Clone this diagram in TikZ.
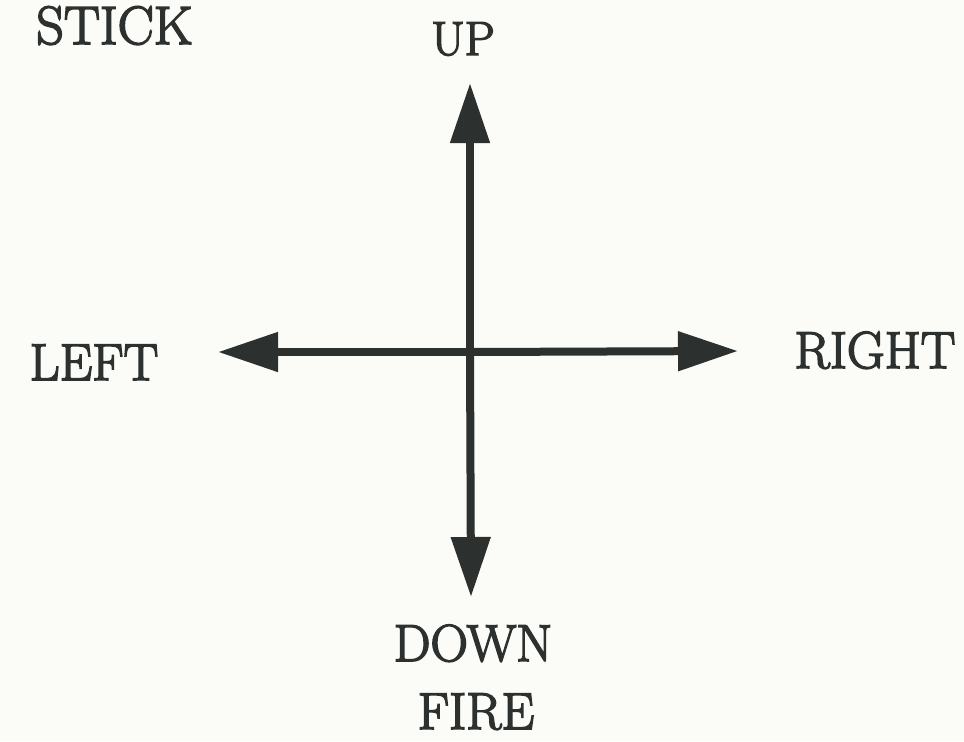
\documentclass[tikz,border=0pt]{standalone}
\usepackage{fontspec}
\usetikzlibrary{arrows.meta,positioning,backgrounds}
\newfontfamily\joyfont{Latin Modern Roman}[FakeBold=3]
\definecolor{paper}{RGB}{251,251,248}
\definecolor{ink}{RGB}{44,48,46}

\begin{document}
\begin{tikzpicture}[x=0.5pt,y=-0.5pt,
    lbl/.style={font=\joyfont\fontsize{26}{30}\selectfont,text=ink,inner sep=0pt},
    stickarrow/.style={ink,line width=4pt,-{Triangle[length=30pt,width=19pt]}}]
        \useasboundingbox (0,0) rectangle (964,741);
        \fill[paper] (0,0) rectangle (964,741);
        % centre of the stick and ends of the four arrows
        \coordinate (mid) at (470,352);
        \coordinate (upend) at (470,83);
        \coordinate (downend) at (471,597);
        \coordinate (leftend) at (218,352);
        \coordinate (rightend) at (738,351);
        \foreach \e in {up,down,left,right} \draw[stickarrow] (mid) -- (\e end);
        % labels
        \node[lbl,font=\joyfont\fontsize{27}{32}\selectfont,anchor=base east] (title) at (193,44) {STICK};
        \node[lbl,font=\joyfont\fontsize{24}{28}\selectfont,anchor=base] (up) at (463,55) {UP};
        \node[lbl,anchor=base] (left) at (94,380) {LEFT};
        \node[lbl,anchor=base] (right) at (875,368) {RIGHT};
        \node[lbl,anchor=base] (down) at (473,661) {DOWN};
        \node[lbl,anchor=base] (fire) at (476,729) {FIRE};
      \end{tikzpicture}
\end{document}
